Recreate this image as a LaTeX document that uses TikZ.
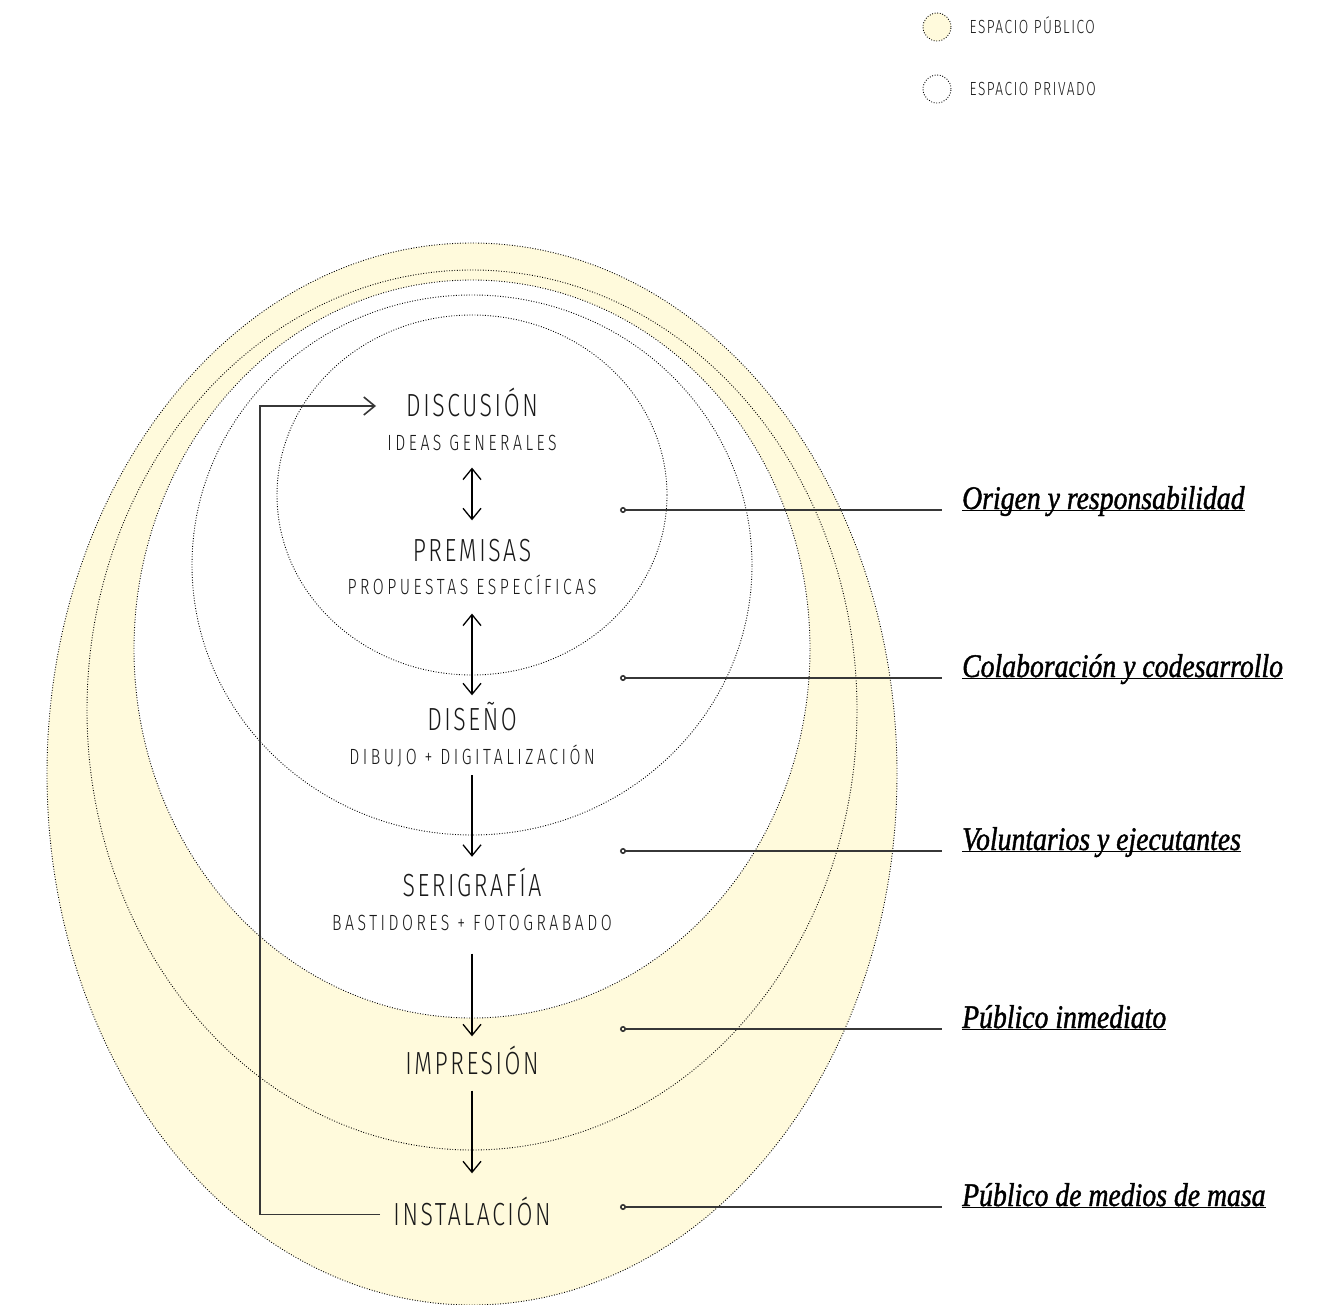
\documentclass[tikz,border=0pt]{standalone}
\usepackage{fontspec}
\usetikzlibrary{
    arrows.meta,
    positioning,
}
\newfontfamily\stagefont{Fira Sans}[UprightFont=* Light,FakeStretch=0.72,LetterSpace=8]
\newfontfamily\stepfont{Fira Sans}[UprightFont=* Light,FakeStretch=0.72,LetterSpace=16]
\newfontfamily\notefont{Liberation Serif}[FakeStretch=0.84,FakeBold=1.2]
\definecolor{publico}{RGB}{255,250,220}
\definecolor{ink}{RGB}{25,25,25}
\definecolor{wire}{RGB}{55,55,55}

\tikzstyle{zone}=[draw=black,line width=0.9pt,dash pattern=on 0.9pt off 1.7pt]
\tikzstyle{stage}=[inner sep=0pt,text height=22pt,text depth=0pt,text=ink,font=\stagefont\fontsize{32}{32}\selectfont]
\tikzstyle{substage}=[inner sep=0pt,text height=15pt,text depth=0pt,text=ink,font=\stepfont\fontsize{22}{22}\selectfont]
\tikzstyle{flow}=[line width=1.3pt,->]
\tikzstyle{twoway}=[line width=1.3pt,<->]
\tikzstyle{loopback}=[draw=wire,line width=1.6pt,->]
\tikzstyle{lead}=[draw=wire,line width=1.6pt,{Circle[open,length=6pt,width=6pt]}-]
\tikzstyle{note}=[anchor=west,inner sep=0pt,font=\notefont\itshape\fontsize{33}{33}\selectfont]
\tikzstyle{legdot}=[zone,circle,minimum size=28pt,inner sep=0pt]
\tikzstyle{legtext}=[inner sep=0pt,text height=13pt,text depth=0pt,text=ink,font=\stagefont\fontsize{19}{19}\selectfont]

\begin{document}
\begin{tikzpicture}[x=1pt,y=-1pt,>={Straight Barb[length=11pt,width=18pt]}]
    \useasboundingbox (0,0) rectangle (1317,1305);

    % espacios
    \draw[zone,fill=publico] (472,774) ellipse [x radius=425pt,y radius=531pt];
    \draw[zone,fill=publico] (472,710) ellipse [x radius=385pt,y radius=440pt];
    \draw[zone,fill=white] (472,649) ellipse [x radius=338pt,y radius=369pt];
    \draw[zone,fill=white] (472,565) ellipse [x radius=280pt,y radius=270pt];
    \draw[zone,fill=white] (472,495) ellipse [x radius=195pt,y radius=180pt];

    % leyenda
    \node[legdot,fill=publico] (legpub) at (937,27) {};
    \node[legtext,right=18pt of legpub] (legpubtxt) {ESPACIO PÚBLICO};
    \node[legdot,fill=white] (legpriv) at (937,89) {};
    \node[legtext,right=18pt of legpriv] (legprivtxt) {ESPACIO PRIVADO};

    % etapas
    \node[stage] (discusion) at (472,406) {DISCUSIÓN};
    \node[substage,below=18pt of discusion] (ideas) {IDEAS GENERALES};
    \node[stage] (premisas) at (472,550.5) {PREMISAS};
    \node[substage,below=18pt of premisas] (propuestas) {PROPUESTAS ESPECÍFICAS};
    \node[stage] (diseno) at (472,719.5) {DISEÑO};
    \node[substage,below=19pt of diseno] (dibujo) {DIBUJO + DIGITALIZACIÓN};
    \node[stage] (serigrafia) at (472,885) {SERIGRAFÍA};
    \node[substage,below=19pt of serigrafia] (bastidores) {BASTIDORES + FOTOGRABADO};
    \node[stage] (impresion) at (472,1063.5) {IMPRESIÓN};
    \node[stage] (instalacion) at (472,1214.5) {INSTALACIÓN};

    \draw[twoway,shorten <=17pt,shorten >=19pt] (ideas.south) -- (premisas.north);
    \draw[twoway,shorten <=18.5pt,shorten >=13pt] (propuestas.south) -- (diseno.north);
    \draw[flow,shorten <=10pt,shorten >=17pt] (dibujo.south) -- (serigrafia.north);
    \draw[flow,shorten <=23pt,shorten >=16pt] (bastidores.south) -- (impresion.north);
    \draw[flow,shorten <=16pt,shorten >=30pt] (impresion.south) -- (instalacion.north);
    \draw[loopback,shorten <=13pt,shorten >=30pt] (instalacion.west) -- ++(-133,0) |- (discusion.west);

    % actores
    \coordinate (o1) at (620,510);
    \coordinate (o2) at (620,678);
    \coordinate (o3) at (620,851);
    \coordinate (o4) at (620,1029);
    \coordinate (o5) at (620,1207);
    \node[note] (origen) at (962,510) {\underline{\smash{Origen y responsabilidad}}};
    \node[note] (colabora) at (962,678) {\underline{\smash{Colaboración y codesarrollo}}};
    \node[note] (volunt) at (962,851) {\underline{\smash{Voluntarios y ejecutantes}}};
    \node[note] (inmediato) at (962,1029) {\underline{\smash{Público inmediato}}};
    \node[note] (masa) at (962,1207) {\underline{\smash{Público de medios de masa}}};
    \draw[lead,shorten >=20pt] (o1) -- (origen.west);
    \draw[lead,shorten >=20pt] (o2) -- (colabora.west);
    \draw[lead,shorten >=20pt] (o3) -- (volunt.west);
    \draw[lead,shorten >=20pt] (o4) -- (inmediato.west);
    \draw[lead,shorten >=20pt] (o5) -- (masa.west);
\end{tikzpicture}
\end{document}
